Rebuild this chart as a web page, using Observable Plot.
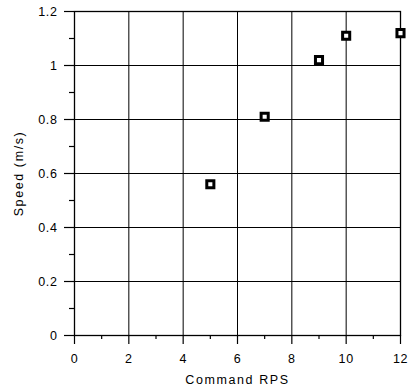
<!DOCTYPE html>
<html>
<head>
<meta charset="utf-8">
<script src="https://cdn.jsdelivr.net/npm/d3@7"></script>
<script src="https://cdn.jsdelivr.net/npm/@observablehq/plot@0.6"></script>
<style>
  body { margin: 0; background: #fff; }
  svg { font-family: "Liberation Sans", Arial, sans-serif; }
  svg g[aria-label="text"] text { letter-spacing: 1.6px; }
  svg g[aria-label="x-axis tick label"] text, svg g[aria-label="y-axis tick label"] text { letter-spacing: 0.6px; }
</style>
</head>
<body>
<div id="chart"></div>
<script>
const rps = [5, 7, 9, 10, 12];
const speed = [0.56, 0.81, 1.02, 1.11, 1.12];
const xTicks = [0, 2, 4, 6, 8, 10, 12];
const xMinor = [1, 3, 5, 7, 9, 11];
const yTicks = [0, 0.2, 0.4, 0.6, 0.8, 1, 1.2];
const yLabels = ["0", "0.2", "0.4", "0.6", "0.8", "1", "1.2"];
const yMinor = [0.1, 0.3, 0.5, 0.7, 0.9, 1.1];
const xTitle = "Command RPS";
const yTitle = "Speed (m/s)";

const data = rps.map((x, i) => ({x, y: speed[i]}));

const chart = Plot.plot({
  width: 409,
  height: 389,
  marginLeft: 74,
  marginRight: 9,
  marginTop: 11,
  marginBottom: 54,
  style: {fontSize: "12px", fontFamily: "'Liberation Sans', Arial, sans-serif", color: "#000", background: "#fff"},
  x: {domain: [0, 12]},
  y: {domain: [0, 1.2]},
  marks: [
    Plot.ruleX(xTicks, {stroke: "#000", strokeWidth: 1, strokeOpacity: 1}),
    Plot.ruleY(yTicks, {stroke: "#000", strokeWidth: 1, strokeOpacity: 1}),
    Plot.frame({stroke: "#000", strokeWidth: 1.3}),
    Plot.axisX({ticks: xTicks, tickSize: 9, strokeWidth: 1.2, strokeOpacity: 1, tickPadding: 10, tickFormat: d => String(d), label: null, fontSize: 12.5, fill: "#000"}),
    Plot.axisX({ticks: xMinor, tickSize: 4, strokeWidth: 1.2, strokeOpacity: 1, tickFormat: () => "", label: null}),
    Plot.axisY({ticks: yTicks, tickSize: 10, strokeWidth: 1.2, strokeOpacity: 1, tickPadding: 7, tickFormat: (d, i) => yLabels[i], label: null, fontSize: 12.5}),
    Plot.axisY({ticks: yMinor, tickSize: 5, strokeWidth: 1.2, strokeOpacity: 1, tickFormat: () => "", label: null}),
    Plot.text([xTitle], {frameAnchor: "bottom", textAnchor: "middle", dy: 48, text: d => d, fontSize: 12.5, fill: "#000"}),
    Plot.text([yTitle], {frameAnchor: "left", textAnchor: "middle", dx: -56, rotate: -90, text: d => d, fontSize: 12.5, fill: "#000"}),
    Plot.dot(data, {x: "x", y: "y", symbol: "square", r: 4, stroke: "#000", strokeWidth: 3, fill: "#fff"})
  ]
});
document.getElementById("chart").appendChild(chart);
</script>
</body>
</html>
